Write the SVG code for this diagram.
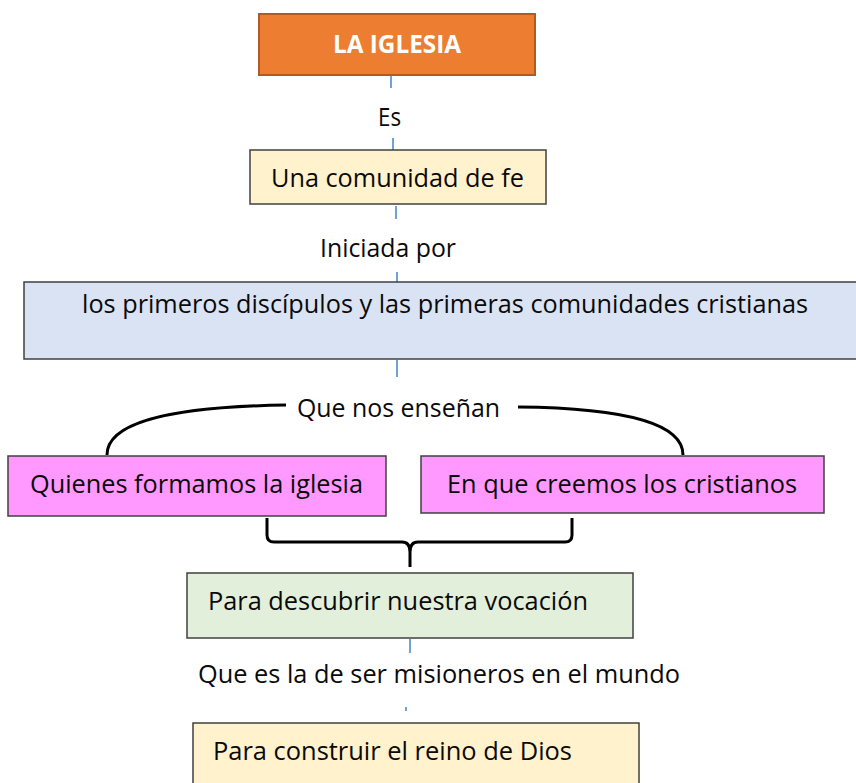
<svg xmlns="http://www.w3.org/2000/svg" width="856" height="783" viewBox="0 0 856 783">
<style>
.box{stroke:#404040;stroke-width:1.5}
.t{font-family:"Open Sans","Noto Sans","Liberation Sans",sans-serif;font-size:25px;fill:#0a0a0a}
.c{fill:none;stroke:#6fa3d8;stroke-width:2}
.k{fill:none;stroke:#000;stroke-width:3}
</style>
<rect width="856" height="783" fill="#fff"/>
<g id="connectors">
<line class="c" x1="391" y1="76" x2="391" y2="88"/>
<line class="c" x1="393" y1="138" x2="393" y2="150"/>
<line class="c" x1="396" y1="206" x2="396" y2="219"/>
<line class="c" x1="397" y1="272" x2="397" y2="282"/>
<line class="c" x1="397" y1="360" x2="397" y2="377"/>
<line class="c" x1="410" y1="639" x2="410" y2="653"/>
<line class="c" x1="406" y1="707" x2="406" y2="711"/>
<path class="k" d="M286,405 C160,407 107,425 107,455"/>
<path class="k" d="M518,407 C630,408 683,425 683,455"/>
<path class="k" stroke-width="4" d="M267,518 V535 Q267,542 274,542 H402 Q410,542 410,552 V567 M410,552 Q410,542 418,542 H565 Q572,542 572,535 V518"/>
<text class="t" x="378" y="126" textLength="23" lengthAdjust="spacingAndGlyphs">Es</text>
<text class="t" x="320" y="257" textLength="136" lengthAdjust="spacingAndGlyphs">Iniciada por</text>
<text class="t" x="297" y="417" textLength="203" lengthAdjust="spacingAndGlyphs">Que nos enseñan</text>
<text class="t" x="198" y="683" textLength="482" lengthAdjust="spacingAndGlyphs">Que es la de ser misioneros en el mundo</text>
</g>
<g id="n-iglesia">
<rect x="259" y="14" width="276" height="61" fill="#ED7D31" stroke="#B35A1F" stroke-width="2"/>
<text x="333" y="53" textLength="128" lengthAdjust="spacingAndGlyphs" style="font-family:'Open Sans','Liberation Sans',sans-serif;font-size:25px;font-weight:bold;fill:#fff">LA IGLESIA</text>
</g>
<g id="n-comunidad">
<rect class="box" x="250" y="150" width="296" height="54" fill="#FFF2CC"/>
<text class="t" x="271" y="187" textLength="253" lengthAdjust="spacingAndGlyphs">Una comunidad de fe</text>
</g>
<g id="n-discipulos">
<rect class="box" x="24" y="282" width="850" height="77" fill="#DAE3F3"/>
<text class="t" x="82" y="313" textLength="726" lengthAdjust="spacingAndGlyphs">los primeros discípulos y las primeras comunidades cristianas</text>
</g>
<g id="n-quienes">
<rect class="box" x="8" y="456" width="378" height="60" fill="#FF99FF"/>
<text class="t" x="30" y="493" textLength="333" lengthAdjust="spacingAndGlyphs">Quienes formamos la iglesia</text>
</g>
<g id="n-creemos">
<rect class="box" x="421" y="456" width="403" height="57" fill="#FF99FF"/>
<text class="t" x="447" y="493" textLength="350" lengthAdjust="spacingAndGlyphs">En que creemos los cristianos</text>
</g>
<g id="n-vocacion">
<rect class="box" x="187" y="573" width="446" height="65" fill="#E2EFDA"/>
<text class="t" x="208" y="610" textLength="380" lengthAdjust="spacingAndGlyphs">Para descubrir nuestra vocación</text>
</g>
<g id="n-reino">
<rect class="box" x="193" y="723" width="446" height="70" fill="#FFF2CC"/>
<text class="t" x="213" y="760" textLength="359" lengthAdjust="spacingAndGlyphs">Para construir el reino de Dios</text>
</g>
</svg>
